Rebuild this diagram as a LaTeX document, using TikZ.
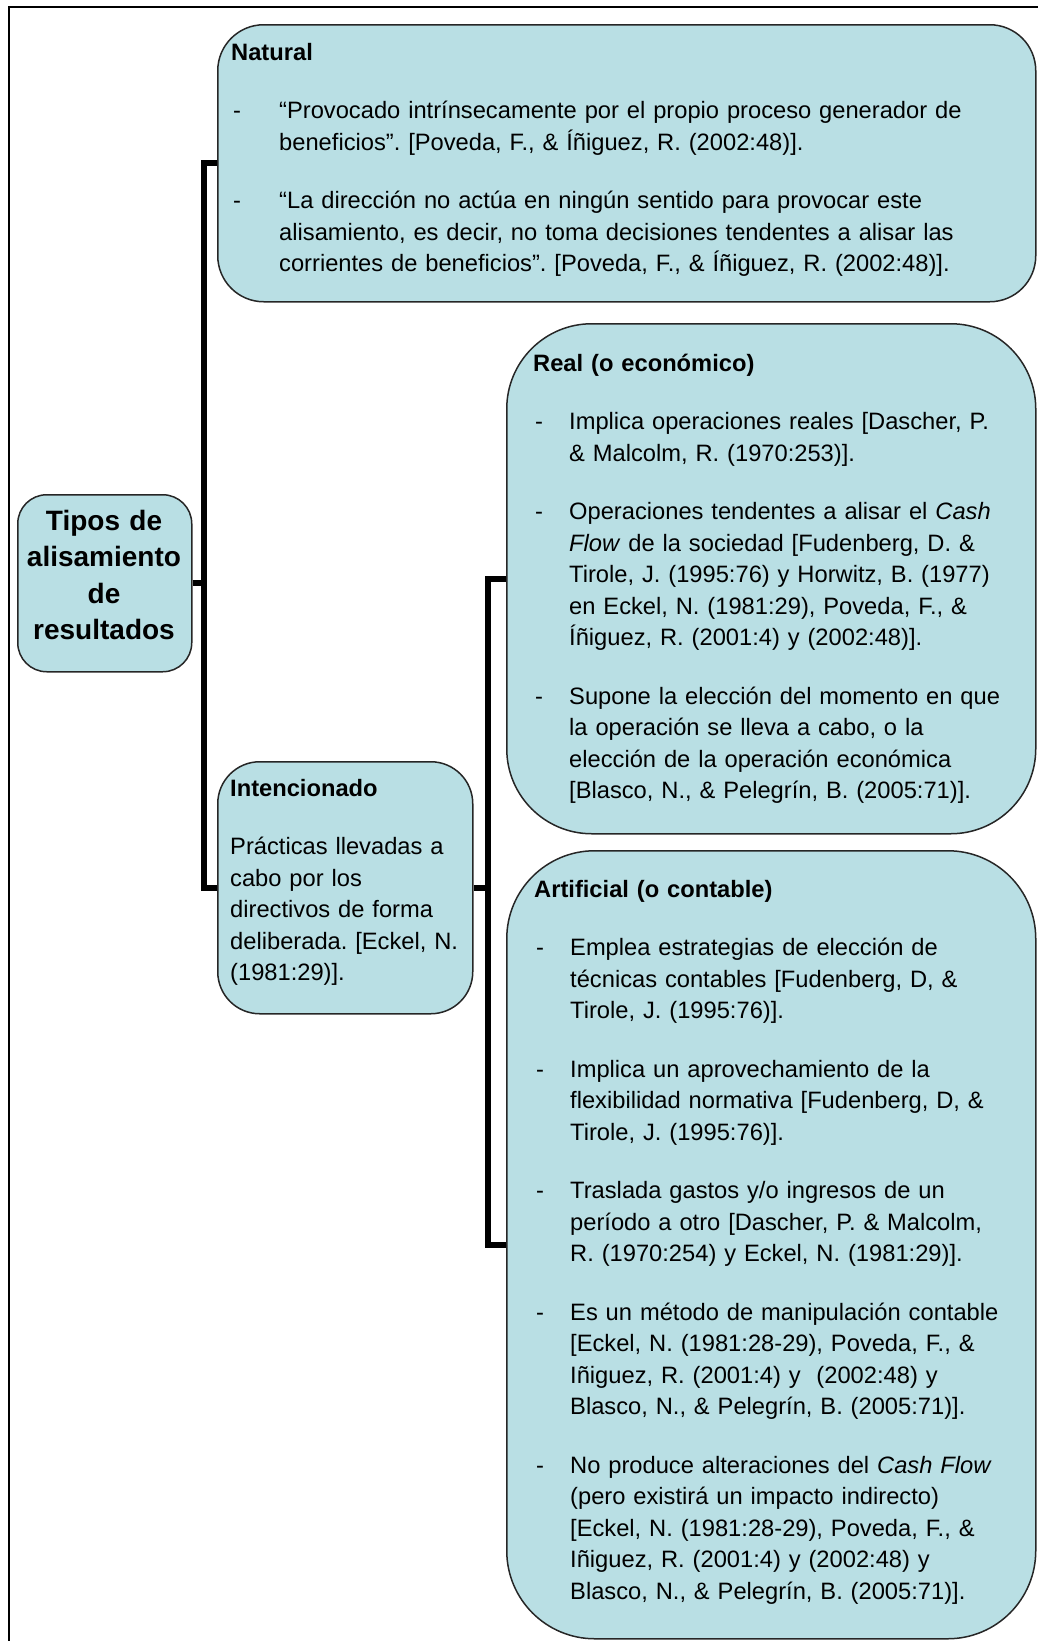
\documentclass[tikz,border=0pt]{standalone}
\usepackage{fontspec}
\setmainfont{Liberation Sans}
\definecolor{celeste}{RGB}{185,223,228}
\newcommand{\guion}[1][36pt]{\makebox[#1][l]{\hspace{2pt}-}}
\newcommand{\sangria}[1][36pt]{\hspace*{#1}}
\begin{document}
\frenchspacing
\begin{tikzpicture}[x=1pt, y=-1pt,
    caja/.style={draw=black!85, line width=1.5pt, fill=celeste, anchor=north west, inner sep=0pt},
    texto/.style={anchor=base west, inner sep=0pt, align=left, font=\fontsize{23.7}{31.5}\selectfont\frenchspacing},
    rama/.style={line width=6pt, line join=miter}]
    \useasboundingbox (0,0) rectangle (1038,1641);
    % marco
    \draw[line width=2pt] (9,1650) -- (9,7) -- (1050,7);

    % cajas
    \node[caja, minimum width=174, minimum height=177, rounded corners=29] (raiz) at (17,494) {};
    \node[caja, minimum width=818, minimum height=277, rounded corners=46] (natural) at (217,24) {};
    \node[caja, minimum width=255, minimum height=252, rounded corners=42] (intenc) at (217,761) {};
    \node[caja, minimum width=529, minimum height=510, rounded corners=85] (real) at (506,323) {};
    \node[caja, minimum width=529, minimum height=788, rounded corners=88] (artif) at (506,850) {};

    % conectores
    \draw[rama] (raiz.east) -- ++(13,0);
    \draw[rama] (natural.west) -- ++(-13,0) |- (intenc.west);
    \draw[rama] (intenc.east) -- ++(16,0);
    \draw[rama] (real.west) -- ++(-18,0) |- (artif.west);

    % textos
    \node[texto, anchor=base, align=center, text width=174,
          font=\bfseries\fontsize{28}{36.6}\selectfont] (traiz) at (104,530)
        {Tipos de\\ alisamiento\\ de\\ resultados};

    \node[texto, text width=790] (tnatural) at (231,60) {\textbf{Natural}\\[27pt]
        \guion[48pt]“Provocado intrínsecamente por el propio proceso generador de\\
        \sangria[48pt]beneficios”. [Poveda, F., \& Íñiguez, R. (2002:48)].\\[27pt]
        \guion[48pt]“La dirección no actúa en ningún sentido para provocar este\\
        \sangria[48pt]alisamiento, es decir, no toma decisiones tendentes a alisar las\\
        \sangria[48pt]corrientes de beneficios”. [Poveda, F., \& Íñiguez, R. (2002:48)].};

    \node[texto, text width=240] (tintenc) at (230,796) {\textbf{Intencionado}\\[27pt]
        Prácticas llevadas a\\ cabo por los\\ directivos de forma\\
        deliberada. [Eckel, N.\\ (1981:29)].};

    \node[texto, text width=495] (treal) at (533,371) {\textbf{Real (o económico)}\\[27pt]
        \guion Implica operaciones reales [Dascher, P.\\
        \sangria\& Malcolm, R. (1970:253)].\\[27pt]
        \guion Operaciones tendentes a alisar el \textit{Cash}\\
        \sangria\textit{Flow} de la sociedad [Fudenberg, D. \&\\
        \sangria Tirole, J. (1995:76) y Horwitz, B. (1977)\\
        \sangria en Eckel, N. (1981:29), Poveda, F., \&\\
        \sangria Íñiguez, R. (2001:4) y (2002:48)].\\[27pt]
        \guion Supone la elección del momento en que\\
        \sangria la operación se lleva a cabo, o la\\
        \sangria elección de la operación económica\\
        \sangria{}[Blasco, N., \& Pelegrín, B. (2005:71)].};

    \node[texto, text width=495] (tartif) at (534,897) {\textbf{Artificial (o contable)}\\[27pt]
        \guion Emplea estrategias de elección de\\
        \sangria técnicas contables [Fudenberg, D, \&\\
        \sangria Tirole, J. (1995:76)].\\[27pt]
        \guion Implica un aprovechamiento de la\\
        \sangria flexibilidad normativa [Fudenberg, D, \&\\
        \sangria Tirole, J. (1995:76)].\\[27pt]
        \guion Traslada gastos y/o ingresos de un\\
        \sangria período a otro [Dascher, P. \& Malcolm,\\
        \sangria R. (1970:254) y Eckel, N. (1981:29)].\\[27pt]
        \guion Es un método de manipulación contable\\
        \sangria{}[Eckel, N. (1981:28-29), Poveda, F., \&\\
        \sangria Iñiguez, R. (2001:4) y\ \ (2002:48) y\\
        \sangria Blasco, N., \& Pelegrín, B. (2005:71)].\\[27pt]
        \guion No produce alteraciones del \textit{Cash Flow}\\
        \sangria(pero existirá un impacto indirecto)\\
        \sangria{}[Eckel, N. (1981:28-29), Poveda, F., \&\\
        \sangria Iñiguez, R. (2001:4) y (2002:48) y\\
        \sangria Blasco, N., \& Pelegrín, B. (2005:71)].};
\end{tikzpicture}
\end{document}
